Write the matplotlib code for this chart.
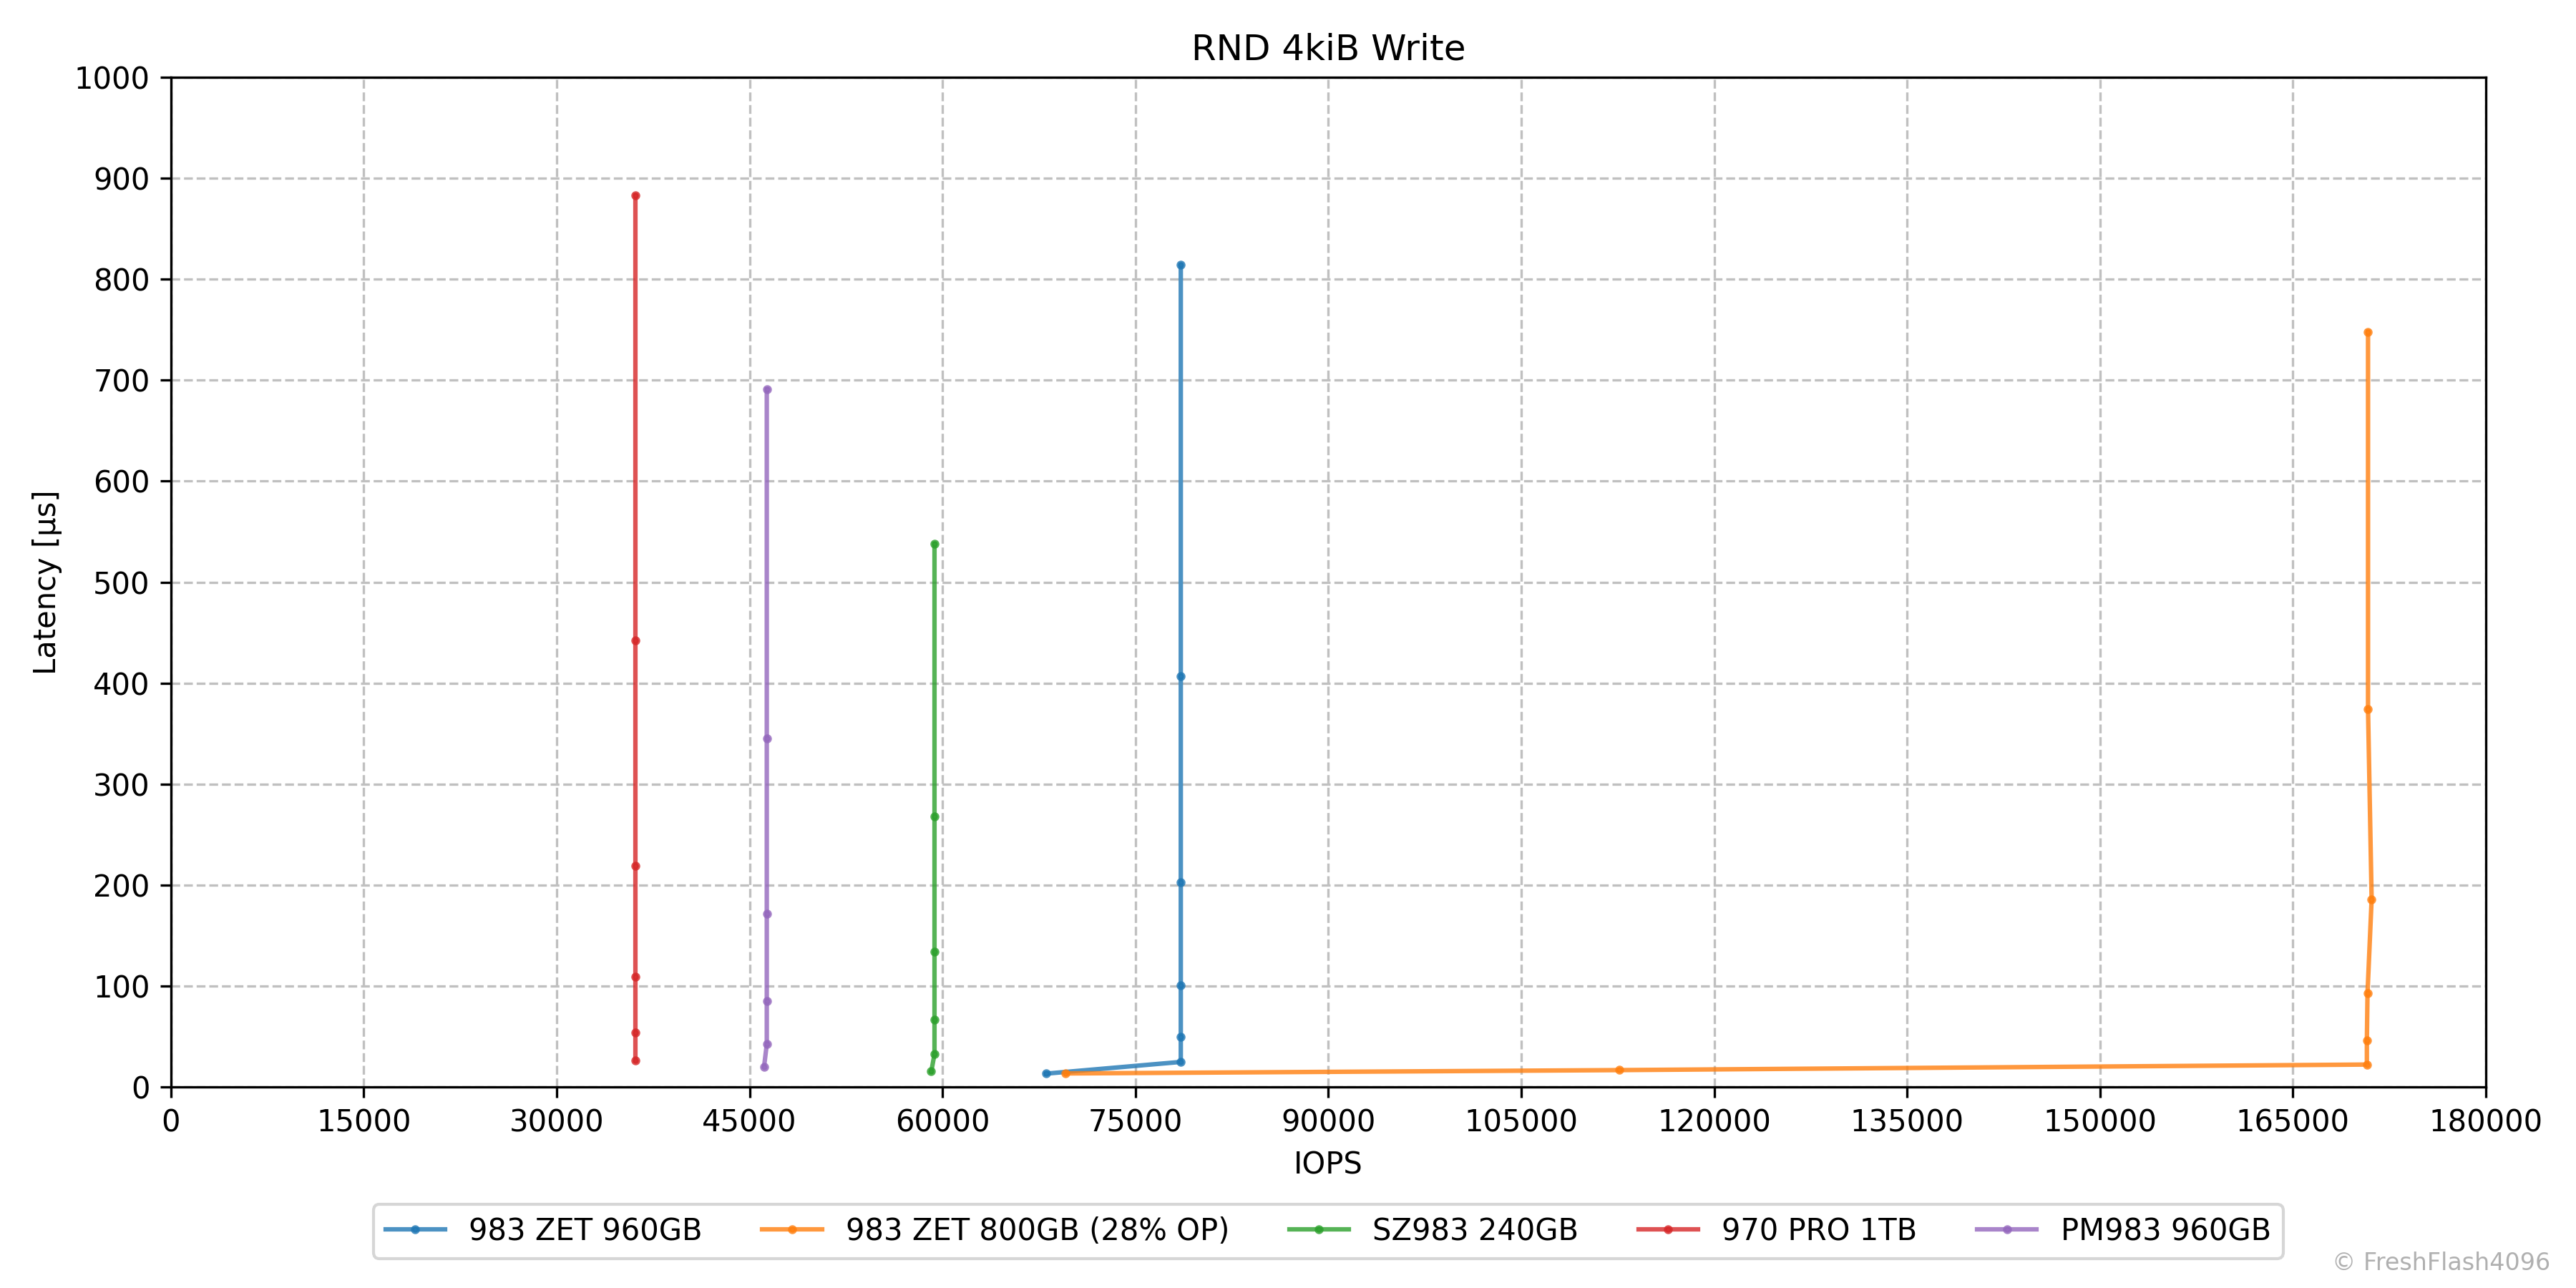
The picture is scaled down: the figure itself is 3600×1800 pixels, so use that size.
import matplotlib
matplotlib.use('Agg')
import matplotlib.pyplot as plt

# RND 4kiB write, one point per queue depth
names = ['983 ZET 960GB', '983 ZET 800GB (28% OP)', 'SZ983 240GB', '970 PRO 1TB', 'PM983 960GB']

zet960_iops = [68050, 78530, 78530, 78530, 78530, 78530, 78530]
zet960_lat = [13.3, 24.9, 49.5, 100.5, 203, 407, 814]

zet800_iops = [69580, 112600, 170750, 170750, 170800, 171120, 170840, 170840]
zet800_lat = [13.5, 16.8, 22.3, 46, 93, 186, 374, 748]

sz983_iops = [59130, 59380, 59380, 59380, 59380, 59380]
sz983_lat = [15.4, 32.7, 66.8, 134, 268, 538]

pro970_iops = [36100, 36100, 36100, 36100, 36100, 36100]
pro970_lat = [26.7, 54.2, 109.4, 219.1, 442, 883]

pm983_iops = [46130, 46340, 46340, 46340, 46340, 46340]
pm983_lat = [20.3, 42.5, 85.4, 171.7, 345, 691]

series = [(zet960_iops, zet960_lat), (zet800_iops, zet800_lat), (sz983_iops, sz983_lat),
          (pro970_iops, pro970_lat), (pm983_iops, pm983_lat)]

fig, ax = plt.subplots(figsize=(12, 6), dpi=300)
fig.subplots_adjust(left=0.0663, right=0.965, top=0.94, bottom=0.156)

for (x, y), name in zip(series, names):
    ax.plot(x, y, marker='o', markersize=2, linewidth=1.5, alpha=0.8, label=name)

ax.set_xlim(0, 180000)
ax.set_ylim(0, 1000)
ax.set_xticks(range(0, 180001, 15000))
ax.set_yticks(range(0, 1001, 100))
ax.grid(True, linestyle='--', color='#c0c0c0', linewidth=0.8)
ax.set_title('RND 4kiB Write')
ax.set_xlabel('IOPS')
ax.set_ylabel('Latency [µs]')

# legend centred under the axes
ax.legend(loc='center', bbox_to_anchor=(0.5, -0.143), ncol=5, fontsize=10)
fig.text(0.99, 0.01, '© FreshFlash4096', ha='right', va='bottom', fontsize=8, color='#b0b0b0')

plt.savefig('out.png')
